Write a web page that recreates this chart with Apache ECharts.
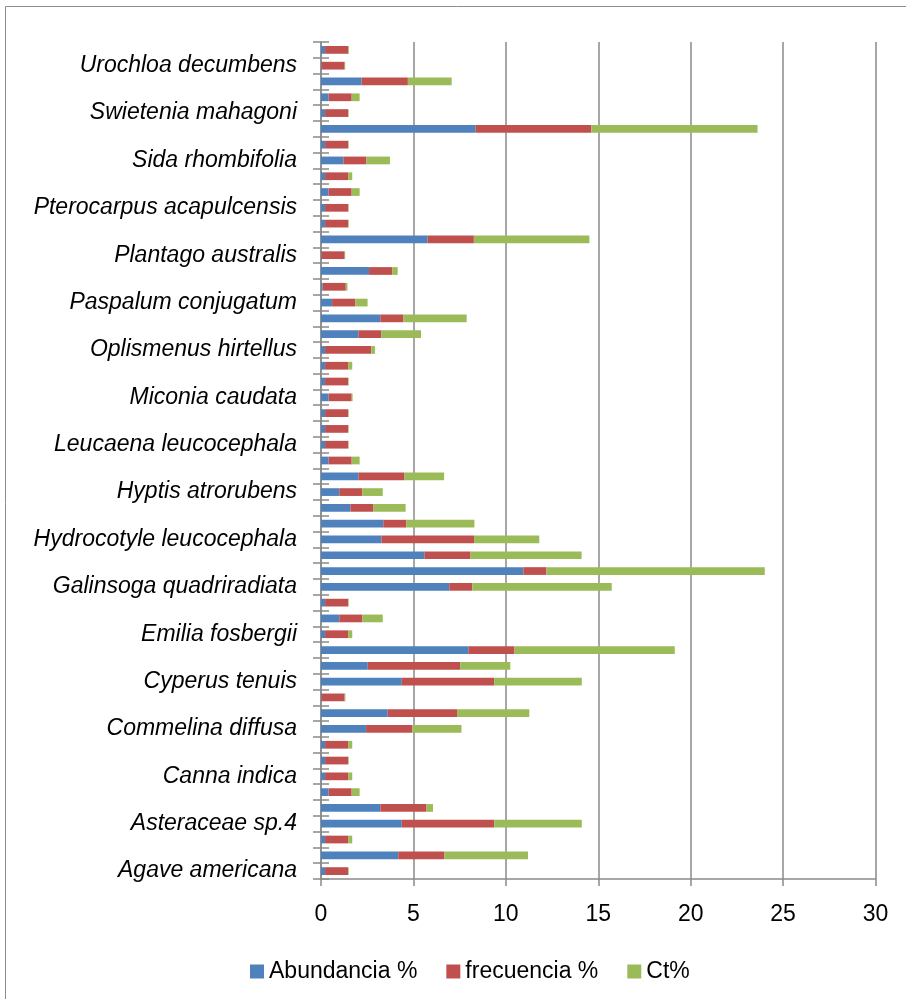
<!DOCTYPE html>
<html>
<head>
<meta charset="utf-8">
<script src="https://cdn.jsdelivr.net/npm/echarts@6/dist/echarts.min.js"></script>
<style>
html,body{margin:0;padding:0;background:#fff;}
#chart{width:906px;height:999px;}
</style>
</head>
<body>
<div id="chart"></div>
<script>
// Categories from bottom (index 0) to top; unlabeled categories in the reference are blank
const categories = [
  "Agave americana", "", "",
  "Asteraceae sp.4", "", "",
  "Canna indica", "", "",
  "Commelina diffusa", "", "",
  "Cyperus tenuis", "", "",
  "Emilia fosbergii", "", "",
  "Galinsoga quadriradiata", "", "",
  "Hydrocotyle leucocephala", "", "",
  "Hyptis atrorubens", "", "",
  "Leucaena leucocephala", "", "",
  "Miconia caudata", "", "",
  "Oplismenus hirtellus", "", "",
  "Paspalum conjugatum", "", "",
  "Plantago australis", "", "",
  "Pterocarpus acapulcensis", "", "",
  "Sida rhombifolia", "", "",
  "Swietenia mahagoni", "", "",
  "Urochloa decumbens", ""
];

const abundancia = [
  0.22, 4.18, 0.22, 4.37, 3.21, 0.41, 0.22, 0.22, 0.22, 2.44,
  3.61, 0.03, 4.37, 2.53, 7.97, 0.22, 0.99, 0.22, 6.94, 10.95,
  5.59, 3.28, 3.37, 1.59, 0.99, 2.02, 0.41, 0.22, 0.22, 0.22,
  0.41, 0.22, 0.22, 0.22, 2.02, 3.21, 0.60, 0.09, 2.60, 0.03,
  5.77, 0.22, 0.22, 0.41, 0.22, 1.21, 0.22, 8.37, 0.22, 0.41,
  2.20, 0.03, 0.22
];

const frecuencia = [
  1.25, 2.50, 1.25, 5.00, 2.50, 1.25, 1.25, 1.25, 1.25, 2.50,
  3.75, 1.25, 5.00, 5.00, 2.50, 1.25, 1.25, 1.25, 1.25, 1.25,
  2.50, 5.00, 1.25, 1.25, 1.25, 2.50, 1.25, 1.25, 1.25, 1.25,
  1.25, 1.25, 1.25, 2.50, 1.25, 1.25, 1.25, 1.25, 1.25, 1.25,
  2.50, 1.25, 1.25, 1.25, 1.25, 1.25, 1.25, 6.25, 1.25, 1.25,
  2.50, 1.25, 1.25
];

const ct = [
  0.03, 4.52, 0.22, 4.74, 0.35, 0.43, 0.22, 0.03, 0.22, 2.66,
  3.91, 0.04, 4.74, 2.71, 8.67, 0.22, 1.10, 0.03, 7.54, 11.81,
  6.01, 3.53, 3.68, 1.74, 1.10, 2.14, 0.43, 0.03, 0.03, 0.03,
  0.05, 0.03, 0.22, 0.20, 2.14, 3.42, 0.67, 0.09, 0.30, 0.03,
  6.25, 0.03, 0.03, 0.43, 0.22, 1.27, 0.03, 9.00, 0.03, 0.43,
  2.37, 0.03, 0.04
];

const seriesNames = ["Abundancia %", "frecuencia %", "Ct%"];
const xTicks = { min: 0, max: 30, interval: 5 };

const gray = '#8a8a8a';
const font = "'Liberation Sans', Arial, sans-serif";

const chart = echarts.init(document.getElementById('chart'), null, { renderer: 'canvas' });

chart.setOption({
  animation: false,
  backgroundColor: '#ffffff',
  color: ['#4F81BD', '#C0504D', '#9BBB59'],
  graphic: [{
    type: 'rect',
    shape: { x: 5.5, y: 6.5, width: 1000, height: 1100 },
    style: { fill: 'none', stroke: '#8c8c8c', lineWidth: 1 },
    silent: true
  }],
  grid: { left: 321, right: 30.5, top: 42, bottom: 120, containLabel: false },
  legend: {
    data: seriesNames,
    left: 245,
    top: 955,
    itemWidth: 14,
    itemHeight: 14,
    itemGap: 29,
    icon: 'rect',
    textStyle: { fontFamily: font, fontSize: 23, color: '#000' }
  },
  xAxis: {
    type: 'value',
    min: xTicks.min,
    max: xTicks.max,
    interval: xTicks.interval,
    axisLine: { show: true, lineStyle: { color: gray, width: 1.5 } },
    axisTick: { show: true, length: 7, lineStyle: { color: gray, width: 1.5 } },
    splitLine: { show: true, lineStyle: { color: gray, width: 1.5 } },
    axisLabel: { fontFamily: font, fontSize: 23, color: '#000', margin: 24 }
  },
  yAxis: [{
    type: 'category',
    data: categories,
    position: 'left',
    axisLine: { show: true, lineStyle: { color: gray, width: 1.5 } },
    axisTick: { show: true, inside: false, length: 8, interval: 0, lineStyle: { color: gray, width: 1.5 } },
    axisLabel: { interval: 0, fontFamily: font, fontStyle: 'italic', fontSize: 23, color: '#000', margin: 24 },
    splitLine: { show: false }
  }, {
    type: 'category',
    data: categories,
    position: 'left',
    offset: 0,
    axisLine: { show: false },
    axisTick: { show: true, inside: true, length: 8, interval: 0, lineStyle: { color: gray, width: 1.5 } },
    axisLabel: { show: false },
    splitLine: { show: false }
  }],
  series: [
    { name: seriesNames[0], type: 'bar', stack: 'total', yAxisIndex: 0, barWidth: '49%', data: abundancia },
    { name: seriesNames[1], type: 'bar', stack: 'total', yAxisIndex: 0, barWidth: '49%', data: frecuencia },
    { name: seriesNames[2], type: 'bar', stack: 'total', yAxisIndex: 0, barWidth: '49%', data: ct }
  ]
});
</script>
</body>
</html>
